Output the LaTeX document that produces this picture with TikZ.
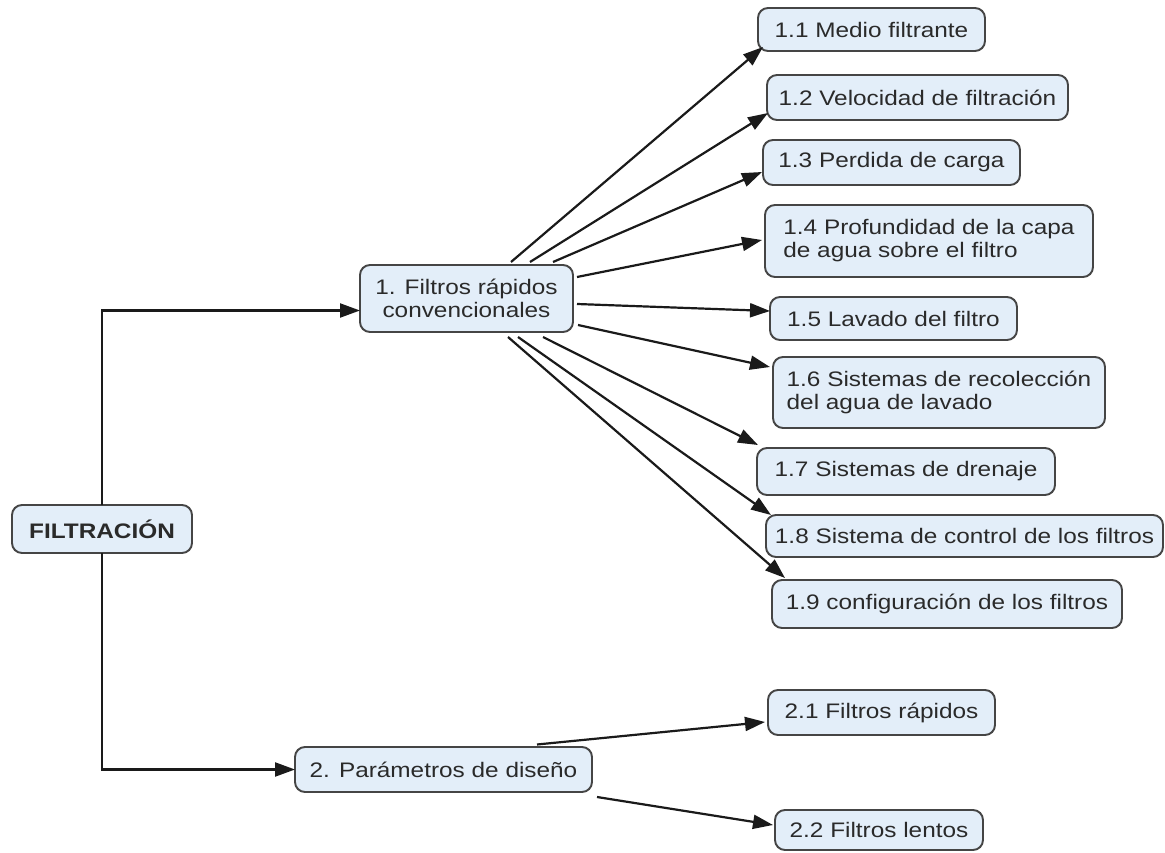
\documentclass[tikz,border=0pt]{standalone}
\usepackage{fontspec}
\setmainfont{Liberation Sans}[FakeStretch=1.16]
\usetikzlibrary{arrows.meta,calc}
\definecolor{boxfill}{HTML}{E3EEF9}
\definecolor{boxline}{HTML}{454545}
\definecolor{txt}{HTML}{2A2A2A}
\definecolor{wire}{HTML}{1A1A1A}
\begin{document}
\begin{tikzpicture}[x=1pt,y=-1pt,
  concept/.style={draw=boxline, line width=1.9pt, fill=boxfill, rounded corners=10pt,
    text=txt, inner sep=0pt, outer sep=0pt, font=\fontsize{21}{23}\selectfont},
  link/.style={draw=wire, line width=2.2pt, -{Triangle[length=20pt,width=14pt]}}]
\useasboundingbox (0,0) rectangle (1165,853);
\fill[white] (0,0) rectangle (1165,853);

% main concepts
\node[concept, font=\fontsize{21}{23}\selectfont\bfseries, minimum width=180pt, minimum height=48pt] (F) at (102,529) {FILTRACIÓN};
\node[concept, align=center, minimum width=213pt, minimum height=67pt] (N1) at (466.5,298.5) {1. Filtros rápidos\\convencionales};
\node[concept, minimum width=297pt, minimum height=45pt] (N2) at (443.5,769.5) {2. Parámetros de diseño};

% branch 1
\node[concept, minimum width=227pt, minimum height=43pt] (a1) at (871.5,29.5) {1.1 Medio filtrante};
\node[concept, minimum width=301pt, minimum height=45pt] (a2) at (917.5,97.5) {1.2 Velocidad de filtración};
\node[concept, minimum width=257pt, minimum height=45pt] (a3) at (891.5,162.5) {1.3 Perdida de carga};
\node[concept, align=left, minimum width=328pt, minimum height=72pt] (a4) at (929,241) {1.4 Profundidad de la capa\\de agua sobre el filtro};
\node[concept, minimum width=247pt, minimum height=43pt] (a5) at (893.5,318.5) {1.5 Lavado del filtro};
\node[concept, align=left, minimum width=332pt, minimum height=71pt] (a6) at (939,392.5) {1.6 Sistemas de recolección\\del agua de lavado};
\node[concept, minimum width=298pt, minimum height=47pt] (a7) at (906,471.5) {1.7 Sistemas de drenaje};
\node[concept, minimum width=397pt, minimum height=42pt] (a8) at (964.5,536) {1.8 Sistema de control de los filtros};
\node[concept, minimum width=350pt, minimum height=48pt] (a9) at (947,604) {1.9 configuración de los filtros};

% branch 2
\node[concept, minimum width=227pt, minimum height=45pt] (b1) at (881.5,712.5) {2.1 Filtros rápidos};
\node[concept, minimum width=208pt, minimum height=40pt] (b2) at (879,830) {2.2 Filtros lentos};

% elbow links from the root
\draw[link] (F.north) |- ($(N1.west)+(0,12)$);
\draw[link] (F.south) |- (N2.west);

% fan of links from concept 1
\draw[link] ($(N1.center)+(44.5,-36.5)$) -- ($(a1.south west)+(5,-4)$);
\draw[link] ($(N1.center)+(63.5,-36.5)$) -- ($(a2.west)+(1,15.5)$);
\draw[link] ($(N1.center)+(86.5,-36.5)$) -- ($(a3.west)+(-1,9.5)$);
\draw[link] ($(N1.center)+(110.5,-21.5)$) -- ($(a4.west)+(-3,-1)$);
\draw[link] ($(N1.center)+(110.5,5.5)$) -- ($(a5.west)+(0,-7.5)$);
\draw[link] ($(N1.center)+(111.5,26.5)$) -- ($(a6.west)+(-3,-25.5)$);
\draw[link] ($(N1.center)+(76.5,38.5)$) -- ($(a7.north west)+(1,-3)$);
\draw[link] ($(N1.center)+(51.5,38.5)$) -- ($(a8.north west)+(5,0)$);
\draw[link] ($(N1.center)+(41.5,38.5)$) -- ($(a9.north west)+(13,-2)$);

% links from concept 2
\draw[link] ($(N2.center)+(93.5,-25)$) -- ($(b1.west)+(-3,9.5)$);
\draw[link] ($(N2.center)+(153.5,27.5)$) -- ($(b2.west)+(-2,-5)$);
\end{tikzpicture}
\end{document}
